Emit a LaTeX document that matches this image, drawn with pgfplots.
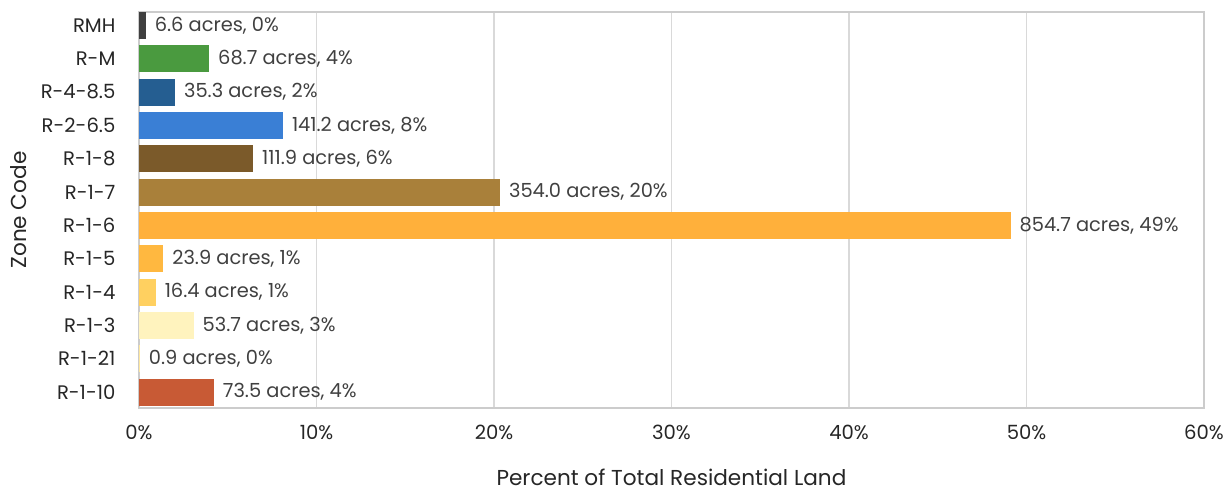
\documentclass[border=0pt]{standalone}
\usepackage{pgfplots}
\pgfplotsset{compat=1.18}
\usepackage{fontspec}
\setmainfont{Poppins}
\definecolor{labc}{HTML}{404040}
\definecolor{cRMH}{HTML}{3F3F3F}
\definecolor{cRM}{HTML}{4A9A3F}
\definecolor{cR485}{HTML}{255E91}
\definecolor{cR265}{HTML}{3A7FD5}
\definecolor{cR18}{HTML}{7B5A2A}
\definecolor{cR17}{HTML}{A9803A}
\definecolor{cR16}{HTML}{FFB03B}
\definecolor{cR15}{HTML}{FFB840}
\definecolor{cR14}{HTML}{FFD060}
\definecolor{cR13}{HTML}{FFF3BE}
\definecolor{cR121}{HTML}{FFE8A0}
\definecolor{cR110}{HTML}{C85A35}
\begin{document}
\begin{tikzpicture}
\begin{axis}[
  scale only axis,
  width=532.5pt, height=198pt,
  xbar, bar width=13.5pt, bar shift=0pt,
  xmin=0, xmax=60,
  ymin=-0.4, ymax=11.48, y dir=reverse,
  xtick={0,10,...,60},
  xticklabel={\pgfmathprintnumber{\tick}\%},
  ytick={0,...,11},
  yticklabels={RMH,R-M,R-4-8.5,R-2-6.5,R-1-8,R-1-7,R-1-6,R-1-5,R-1-4,R-1-3,R-1-21,R-1-10},
  /pgf/number format/assume math mode=true,
  tick style={draw=none},
  xmajorgrids, grid style={draw=gray!30, line width=0.6pt},
  axis line style={draw=gray!40, line width=0.6pt},
  ticklabel style={font=\fontsize{9.8}{11}\selectfont, text=black!85},
  xticklabel style={yshift=-5pt},
  yticklabel style={xshift=-4pt},
  xlabel={Percent of Total Residential Land},
  ylabel={Zone Code},
  label style={font=\fontsize{10.8}{12}\selectfont, text=black!85},
  xlabel style={yshift=-7.5pt},
  ylabel style={yshift=0pt},
  nodes near coords,
  point meta=explicit symbolic,
  every node near coord/.append style={font=\fontsize{9.7}{11}\selectfont, text=labc, anchor=west, xshift=1pt},
]
\addplot[fill=cRMH, draw=none] coordinates {(0.379,0) [6.6 acres, 0\%]};
\addplot[fill=cRM, draw=none] coordinates {(3.95,1) [68.7 acres, 4\%]};
\addplot[fill=cR485, draw=none] coordinates {(2.03,2) [35.3 acres, 2\%]};
\addplot[fill=cR265, draw=none] coordinates {(8.11,3) [141.2 acres, 8\%]};
\addplot[fill=cR18, draw=none] coordinates {(6.43,4) [111.9 acres, 6\%]};
\addplot[fill=cR17, draw=none] coordinates {(20.34,5) [354.0 acres, 20\%]};
\addplot[fill=cR16, draw=none] coordinates {(49.10,6) [854.7 acres, 49\%]};
\addplot[fill=cR15, draw=none] coordinates {(1.37,7) [23.9 acres, 1\%]};
\addplot[fill=cR14, draw=none] coordinates {(0.94,8) [16.4 acres, 1\%]};
\addplot[fill=cR13, draw=none] coordinates {(3.08,9) [53.7 acres, 3\%]};
\addplot[fill=cR121, draw=none] coordinates {(0.05,10) [0.9 acres, 0\%]};
\addplot[fill=cR110, draw=none] coordinates {(4.22,11) [73.5 acres, 4\%]};
\end{axis}
\pgfresetboundingbox
\useasboundingbox ([xshift=-69.5pt,yshift=-42pt]current axis.south west) rectangle ([xshift=9.5pt,yshift=6pt]current axis.north east);
\end{tikzpicture}
\end{document}
